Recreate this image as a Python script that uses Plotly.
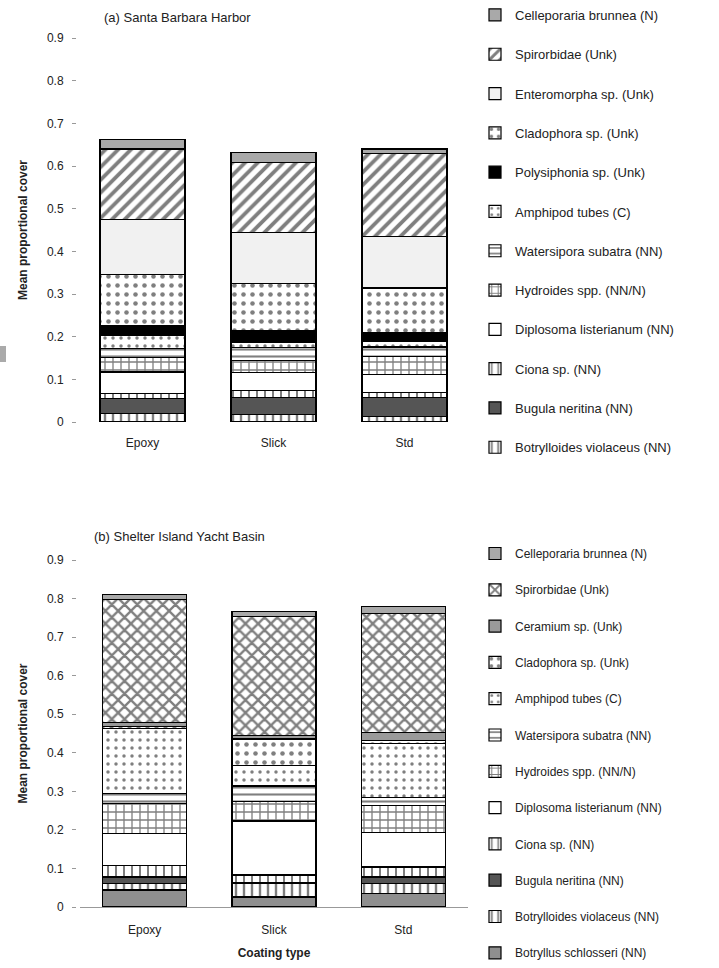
import plotly.graph_objects as go

W, H = 719, 968
M_T, M_B = 12, 12

coatings = ["Epoxy", "Slick", "Std"]
y_tickvals = [0, 0.1, 0.2, 0.3, 0.4, 0.5, 0.6, 0.7, 0.8, 0.9]
y_ticktext = ["0", "0.1", "0.2", "0.3", "0.4", "0.5", "0.6", "0.7", "0.8", "0.9"]

# ---- (a) Santa Barbara Harbor, stacked bottom -> top ----
sb_taxa = [
    "Botrylloides violaceus (NN)",
    "Bugula neritina (NN)",
    "Ciona sp. (NN)",
    "Diplosoma listerianum (NN)",
    "Hydroides spp. (NN/N)",
    "Watersipora subatra (NN)",
    "Amphipod tubes (C)",
    "Polysiphonia sp. (Unk)",
    "Cladophora sp. (Unk)",
    "Enteromorpha sp. (Unk)",
    "Spirorbidae (Unk)",
    "Celleporaria brunnea (N)",
]
sb_epoxy = [0.020, 0.035, 0.012, 0.050, 0.035, 0.020, 0.030, 0.023, 0.120, 0.130, 0.165, 0.023]
sb_slick = [0.018, 0.040, 0.016, 0.042, 0.028, 0.030, 0.012, 0.028, 0.110, 0.120, 0.164, 0.023]
sb_std = [0.012, 0.045, 0.012, 0.042, 0.042, 0.023, 0.012, 0.021, 0.105, 0.120, 0.196, 0.010]

# ---- (b) Shelter Island Yacht Basin, stacked bottom -> top ----
si_taxa = [
    "Botryllus schlosseri (NN)",
    "Botrylloides violaceus (NN)",
    "Bugula neritina (NN)",
    "Ciona sp. (NN)",
    "Diplosoma listerianum (NN)",
    "Hydroides spp. (NN/N)",
    "Watersipora subatra (NN)",
    "Amphipod tubes (C)",
    "Cladophora sp. (Unk)",
    "Ceramium sp. (Unk)",
    "Spirorbidae (Unk)",
    "Celleporaria brunnea (N)",
]
si_epoxy = [0.044, 0.018, 0.016, 0.030, 0.083, 0.078, 0.026, 0.168, 0.005, 0.010, 0.320, 0.013]
si_slick = [0.026, 0.034, 0.003, 0.020, 0.140, 0.050, 0.041, 0.052, 0.070, 0.008, 0.310, 0.013]
si_std = [0.036, 0.026, 0.016, 0.026, 0.090, 0.070, 0.020, 0.140, 0.008, 0.020, 0.310, 0.018]

# fill / pattern for every taxon
style = {
    "Celleporaria brunnea (N)": dict(color="#a9a9a9", shape="", sol=0, size=8),
    "Spirorbidae (Unk)": dict(color="white", shape="/", sol=0.42, size=9),
    "Enteromorpha sp. (Unk)": dict(color="#f1f1f1", shape="", sol=0, size=8),
    "Cladophora sp. (Unk)": dict(color="white", shape=".", sol=0.2, size=9),
    "Polysiphonia sp. (Unk)": dict(color="#000000", shape="", sol=0, size=8),
    "Amphipod tubes (C)": dict(color="white", shape=".", sol=0.15, size=8),
    "Watersipora subatra (NN)": dict(color="white", shape="-", sol=0.3, size=7),
    "Hydroides spp. (NN/N)": dict(color="white", shape="+", sol=0.3, size=8),
    "Diplosoma listerianum (NN)": dict(color="white", shape="", sol=0, size=8),
    "Ciona sp. (NN)": dict(color="white", shape="|", sol=0.25, size=8),
    "Bugula neritina (NN)": dict(color="#555555", shape="", sol=0, size=8),
    "Botrylloides violaceus (NN)": dict(color="white", shape="|", sol=0.3, size=8),
    "Botryllus schlosseri (NN)": dict(color="#8f8f8f", shape="", sol=0, size=8),
    "Ceramium sp. (Unk)": dict(color="#9a9a9a", shape="", sol=0, size=8),
}
spirorbid_b = dict(color="white", shape="x", sol=0.45, size=9)

FONT = "Liberation Sans"
fig = go.Figure()


def add_panel(taxa, cols, xaxis, yaxis, legend, panel):
    n = len(taxa)
    for i, name in enumerate(taxa):
        st = style[name]
        if panel == "b" and name == "Spirorbidae (Unk)":
            st = spirorbid_b
        vals = [cols[0][i], cols[1][i], cols[2][i]]
        marker = dict(color=st["color"], line=dict(color="black", width=1.2))
        if st["shape"]:
            marker["pattern"] = dict(shape=st["shape"], fgcolor="black", bgcolor=st["color"],
                                     size=st["size"], solidity=st["sol"])
        fig.add_trace(go.Bar(
            x=coatings, y=vals, name=name, marker=marker,
            xaxis=xaxis, yaxis=yaxis, legend=legend,
            legendgroup=panel + str(i), legendrank=100 + (n - i), width=0.65,
        ))


add_panel(sb_taxa, [sb_epoxy, sb_slick, sb_std], "x", "y", "legend", "a")
add_panel(si_taxa, [si_epoxy, si_slick, si_std], "x2", "y2", "legend2", "b")


def px_x(v):
    return v / W


def px_y(v):
    # pixel row (from the top of the figure) -> paper fraction
    return (H - M_B - v) / (H - M_T - M_B)


tickfont = dict(family=FONT, size=12, color="#222")
ytitle = dict(text="<b>Mean proportional cover</b>", font=dict(family=FONT, size=12, color="#222"), standoff=16)
yaxis_common = dict(range=[0, 0.9], tickvals=y_tickvals, ticktext=y_ticktext,
                    showgrid=False, zeroline=False, ticks="outside", ticklen=4, tickcolor="#999",
                    tickfont=tickfont, ticklabelstandoff=6, title=ytitle)

fig.update_layout(
    width=W, height=H,
    margin=dict(l=0, r=0, t=M_T, b=M_B),
    paper_bgcolor="white", plot_bgcolor="white",
    barmode="stack", bargap=0.35,
    font=dict(family=FONT, size=12, color="#222"),
    xaxis=dict(domain=[px_x(77), px_x(470)], anchor="y", showgrid=False, showline=False,
               ticks="", tickfont=tickfont, ticklabelstandoff=12),
    yaxis=dict(domain=[px_y(422), px_y(38)], **yaxis_common),
    xaxis2=dict(domain=[px_x(80), px_x(468)], anchor="y2", showgrid=False, showline=True,
                linecolor="#999", linewidth=1, ticks="", tickfont=tickfont, ticklabelstandoff=12,
                title=dict(text="<b>Coating type</b>", font=dict(family=FONT, size=12, color="#222"), standoff=12)),
    yaxis2=dict(domain=[px_y(907), px_y(560)], **yaxis_common),
    legend=dict(x=px_x(475), y=px_y(0), xanchor="left", yanchor="top",
                traceorder="grouped", tracegroupgap=19.4, itemwidth=30,
                font=dict(family=FONT, size=13, color="#222"), bgcolor="rgba(0,0,0,0)"),
    legend2=dict(x=px_x(475), y=px_y(968), xanchor="left", yanchor="bottom",
                 traceorder="grouped", tracegroupgap=17.3, itemwidth=30,
                 font=dict(family=FONT, size=12, color="#222"), bgcolor="rgba(0,0,0,0)"),
    annotations=[
        dict(text="(a) Santa Barbara Harbor", x=px_x(102), y=px_y(17), xref="paper", yref="paper",
             xanchor="left", yanchor="middle", showarrow=False,
             font=dict(family=FONT, size=13, color="#222")),
        dict(text="(b) Shelter Island Yacht Basin", x=px_x(92), y=px_y(536), xref="paper", yref="paper",
             xanchor="left", yanchor="middle", showarrow=False,
             font=dict(family=FONT, size=13, color="#222")),
    ],
    shapes=[
        dict(type="rect", xref="paper", yref="paper", x0=0, x1=px_x(6), y0=px_y(362), y1=px_y(346),
             fillcolor="#aaaaaa", line=dict(width=0)),
    ],
)

fig.write_html("out.html")
